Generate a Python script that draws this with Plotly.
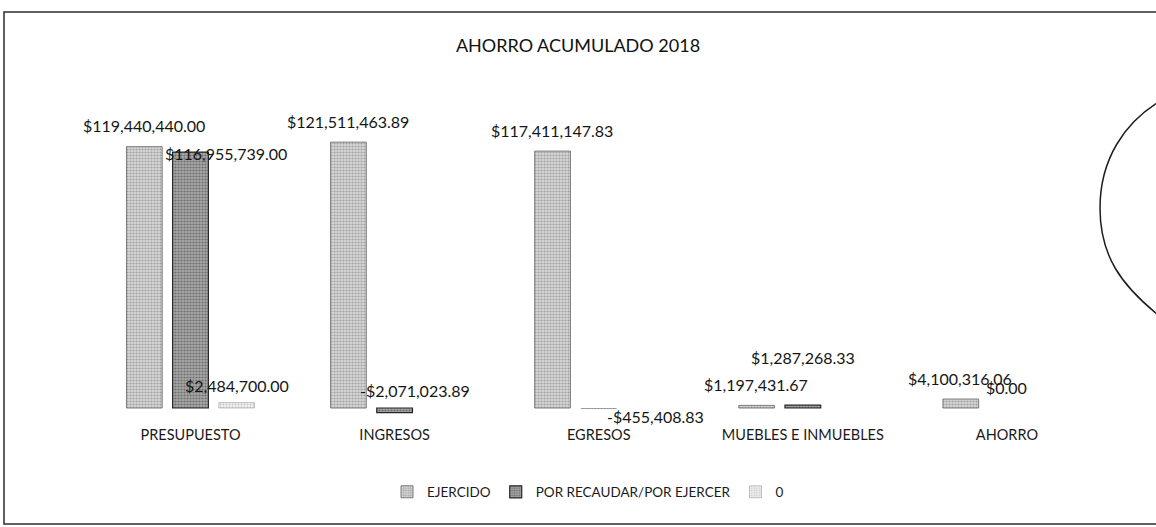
import plotly.graph_objects as go

# ---------------- data ----------------
categories = ["PRESUPUESTO", "INGRESOS", "EGRESOS", "MUEBLES E INMUEBLES", "AHORRO"]
series_names = ["EJERCIDO", "POR RECAUDAR/POR EJERCER", "0"]
ejercido = [119440440.00, 121511463.89, 117411147.83, 1197431.67, 4100316.06]
por_recaudar = [116955739.00, -2071023.89, -455408.83, 1287268.33, 0.00]
serie_0 = [2484700.00, None, None, None, None]
chart_title = "AHORRO ACUMULADO 2018"

# ---------------- layout / style ----------------
W, H = 1156, 527
ML, MR, MT, MB = 81, 47, 100, 103
PW, PH = W - ML - MR, H - MT - MB
BARGAP, BARGROUPGAP = 0.3215, 0.226
FONT = "Lato"

def fmt(v):
    return f"-${abs(v):,.2f}" if v < 0 else f"${v:,.2f}"

def px_x(p):
    return (p - ML) / PW

def px_y(p):
    return (H - MB - p) / PH

styles = [
    dict(color="#cccccc", line_color="#7c7c7c", line_width=1,
         pattern=dict(shape=".", fgcolor="#6a6a6a", bgcolor="#d6d6d6", size=3, solidity=0.38)),
    dict(color="#989898", line_color="#262626", line_width=1.2,
         pattern=dict(shape=".", fgcolor="#333333", bgcolor="#a8a8a8", size=3, solidity=0.42)),
    dict(color="#e4e4e4", line_color="#a0a0a0", line_width=0.6,
         pattern=dict(shape=".", fgcolor="#9a9a9a", bgcolor="#f0f0f0", size=3, solidity=0.3)),
]

all_series = [ejercido, por_recaudar, serie_0]
vmax = max(abs(v) for vals in all_series for v in vals if v is not None)

fig = go.Figure()
for name, vals, st in zip(series_names, all_series, styles):
    # no outline on (near) zero-height bars: nothing shows there in the original
    widths = [0 if (v is None or abs(v) < 0.005 * vmax) else st["line_width"] for v in vals]
    fig.add_trace(go.Bar(
        name=name, x=categories, y=vals, hoverinfo="x+y",
        marker=dict(color=st["color"], pattern=st["pattern"],
                    line=dict(color=st["line_color"], width=widths)),
    ))

# label placement (pixels): default above the bar end, with a few hand nudges
cat_w = PW / len(categories)
slot = (1 - BARGAP) * cat_w / len(all_series)
DEFAULT_UP = 21
nudges = {
    (1, 0): (35, -22), (2, 0): (0, -4),
    (1, 1): (20, 1), (1, 2): (57, -28), (1, 3): (0, 27),
}
annotations = []
for s, vals in enumerate(all_series):
    for j, v in enumerate(vals):
        if v is None:
            continue
        dx, dy = nudges.get((s, j), (0, 0))
        annotations.append(dict(
            x=categories[j], y=v, xref="x", yref="y", text=fmt(v), showarrow=False,
            xshift=(s - 1) * slot + dx, yshift=DEFAULT_UP + dy,
            xanchor="center", yanchor="middle",
            font=dict(family=FONT, size=16, color="#151515"),
        ))

shapes = [
    # chart frame (right side runs off the page)
    dict(type="rect", xref="paper", yref="paper",
         x0=px_x(4), x1=px_x(W + 60), y0=px_y(524), y1=px_y(12),
         line=dict(color="#2e2e2e", width=1.5), fillcolor="rgba(0,0,0,0)", layer="below"),
    # curved scan mark on the right
    dict(type="path", xref="paper", yref="paper",
         path=(f"M {px_x(1162)},{px_y(100)} "
               f"C {px_x(1124)},{px_y(122)} {px_x(1100)},{px_y(160)} {px_x(1100)},{px_y(208)} "
               f"C {px_x(1100)},{px_y(255)} {px_x(1120)},{px_y(285)} {px_x(1162)},{px_y(318)}"),
         line=dict(color="#1e1e1e", width=1.5)),
]

ppm = 2.188 / 1e6  # pixels per unit
baseline_px = 408
y_min = -(H - MB - baseline_px) / ppm
y_max = (baseline_px - MT) / ppm

fig.update_layout(
    width=W, height=H,
    margin=dict(l=ML, r=MR, t=MT, b=MB, pad=0),
    paper_bgcolor="white", plot_bgcolor="white",
    barmode="group", bargap=BARGAP, bargroupgap=BARGROUPGAP,
    title=dict(text=chart_title, x=578 / W, xanchor="center", y=1 - 46 / H, yanchor="middle",
               yref="container", font=dict(family=FONT, size=18, color="#111111")),
    xaxis=dict(showline=False, showgrid=False, zeroline=False, ticks="",
               tickfont=dict(family=FONT, size=14.5, color="#1a1a1a")),
    yaxis=dict(visible=False, range=[y_min, y_max]),
    legend=dict(orientation="h", x=px_x(588), xanchor="center", y=px_y(492), yanchor="middle",
                font=dict(family=FONT, size=13.5, color="#1a1a1a"),
                itemwidth=30, traceorder="normal"),
    annotations=annotations,
    shapes=shapes,
    showlegend=True,
)

fig.write_html(
    "out.html",
    config={"displayModeBar": False},
    post_script="document.body.style.margin='0px'; document.body.style.overflow='hidden';",
)
